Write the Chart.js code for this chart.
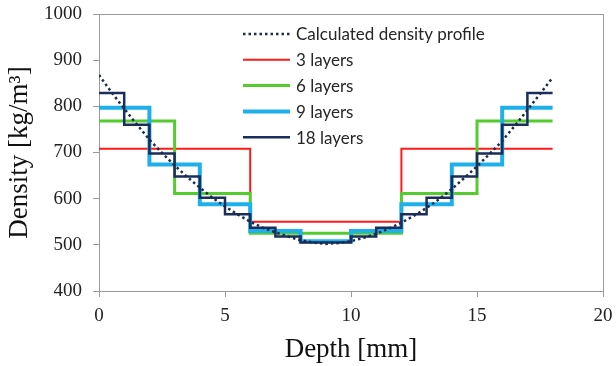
<!DOCTYPE html>
<html>
<head>
<meta charset="utf-8">
<script src="https://cdn.jsdelivr.net/npm/chart.js@4"></script>
<style>
  html, body { margin: 0; padding: 0; background: #fff; }
  #wrap { width: 616px; height: 366px; position: relative; }
</style>
</head>
<body>
<div id="wrap"><canvas id="c" width="616" height="366"></canvas></div>
<script>
// ---- data ----
const profileDepth = [0,0.5,1,1.5,2,2.5,3,3.5,4,4.5,5,5.5,6,6.5,7,7.5,8,8.5,9,9.5,10,10.5,11,11.5,12,12.5,13,13.5,14,14.5,15,15.5,16,16.5,17,17.5,18];
const profileDensity = [868,830,795,761,728,699,672,647,624,602,583,566,550,537,527,518,510,505,502,504,508,515,524,535,548,563,580,599,621,645,670,697,725,758,792,827,862];
const totalDepth = 18;
const layers3 = [708, 550, 708];
const layers6 = [768, 611, 525, 525, 611, 768];
const layers9 = [797, 674, 588, 530, 508, 530, 588, 674, 797];
const layers18 = [829, 760, 698, 648, 602, 566, 537, 518, 505, 505, 518, 537, 566, 602, 648, 698, 760, 829];
const seriesNames = ['Calculated density profile', '3 layers', '6 layers', '9 layers', '18 layers'];
const xTicks = [0, 5, 10, 15, 20];
const yTicks = [400, 500, 600, 700, 800, 900, 1000];

function stepPoints(values) {
  const w = totalDepth / values.length;
  const pts = [];
  values.forEach((v, i) => { pts.push({x: i * w, y: v}); pts.push({x: (i + 1) * w, y: v}); });
  return pts;
}

const datasets = [
  { label: seriesNames[0], data: profileDepth.map((d, i) => ({x: d, y: profileDensity[i]})),
    borderColor: '#1d2b4f', borderWidth: 2.5, borderDash: [2.5, 3], order: 0 },
  { label: seriesNames[1], data: stepPoints(layers3), borderColor: '#ff1a1a', borderWidth: 2, order: 4 },
  { label: seriesNames[2], data: stepPoints(layers6), borderColor: '#55cc2e', borderWidth: 3, order: 3 },
  { label: seriesNames[3], data: stepPoints(layers9), borderColor: '#1fb0ec', borderWidth: 4, order: 2 },
  { label: seriesNames[4], data: stepPoints(layers18), borderColor: '#1b2d5a', borderWidth: 2.5, order: 1 }
];
datasets.forEach(d => { d.pointRadius = 0; d.tension = 0; d.fill = false; d.legendIndex = seriesNames.indexOf(d.label); });

const axisGray = '#9a9a9a';

const framePlugin = {
  id: 'frame',
  beforeDatasetsDraw(chart) {
    const a = chart.chartArea, ctx = chart.ctx;
    ctx.save();
    ctx.strokeStyle = axisGray; ctx.lineWidth = 1;
    ctx.strokeRect(Math.round(a.left) + 0.5, Math.round(a.top) + 0.5, Math.round(a.right - a.left), Math.round(a.bottom - a.top));
    ctx.restore();
  }
};

const legendPlugin = {
  id: 'insideLegend',
  afterDatasetsDraw(chart) {
    const ctx = chart.ctx;
    ctx.save();
    const x0 = 243, x1 = 290, tx = 296, y0 = 34, dy = 25.8;
    ctx.font = '17px Lato';
    ctx.textBaseline = 'middle';
    ctx.fillStyle = '#262626';
    chart.data.datasets.slice().sort((a, b) => a.legendIndex - b.legendIndex).forEach((ds, i) => {
      const y = y0 + i * dy;
      ctx.strokeStyle = ds.borderColor;
      ctx.lineWidth = ds.borderWidth;
      ctx.setLineDash(ds.borderDash || []);
      ctx.beginPath(); ctx.moveTo(x0, y); ctx.lineTo(x1, y); ctx.stroke();
      ctx.setLineDash([]);
      ctx.fillText(ds.label, tx, y + 1);
    });
    ctx.restore();
  }
};

new Chart(document.getElementById('c'), {
  type: 'line',
  data: { datasets },
  plugins: [framePlugin, legendPlugin],
  options: {
    responsive: false,
    animation: false,
    layout: { padding: { top: 14, right: 13, left: 0, bottom: 0 } },
    plugins: { legend: { display: false }, tooltip: { enabled: false } },
    scales: {
      x: {
        type: 'linear', min: 0, max: 20,
        afterBuildTicks: s => { s.ticks = xTicks.map(v => ({value: v})); },
        afterFit: s => { s.height = 75; s.paddingLeft = 0; s.paddingRight = 0; },
        grid: { drawOnChartArea: false, drawTicks: true, tickLength: 6, color: axisGray },
        border: { color: axisGray },
        ticks: { color: '#222', font: { family: 'Liberation Serif', size: 19 }, padding: 8, maxRotation: 0, callback: v => String(v) },
        title: { display: true, text: 'Depth [mm]', color: '#111', font: { family: 'Liberation Serif', size: 27 }, padding: { top: 0, bottom: 0 } }
      },
      y: {
        min: 400, max: 1000,
        afterBuildTicks: s => { s.ticks = yTicks.map(v => ({value: v})); },
        afterFit: s => { s.width = 99; s.paddingTop = 0; s.paddingBottom = 0; },
        grid: { drawOnChartArea: false, drawTicks: true, tickLength: 6, color: axisGray },
        border: { color: axisGray },
        ticks: { color: '#222', font: { family: 'Liberation Serif', size: 19 }, padding: 11, callback: v => String(v) },
        title: { display: true, text: 'Density [kg/m\u00B3]', color: '#111', font: { family: 'Liberation Serif', size: 27 }, padding: { top: 4, bottom: 0 } }
      }
    }
  }
});
</script>
</body>
</html>
